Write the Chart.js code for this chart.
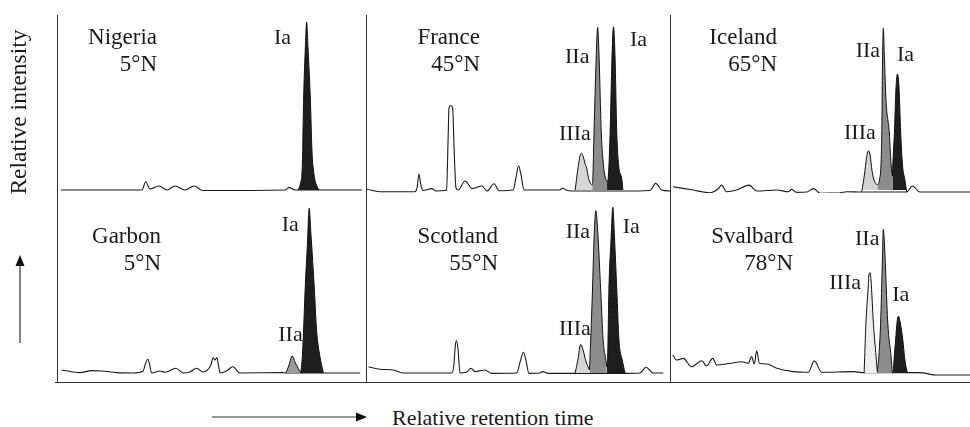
<!DOCTYPE html>
<html>
<head>
<meta charset="utf-8">
<script src="https://cdn.jsdelivr.net/npm/chart.js@4.4.1/dist/chart.umd.min.js"></script>
<style>
  body { margin: 0; background: #fff; }
  #wrap { position: relative; width: 970px; height: 427px; overflow: hidden; font-family: "Liberation Serif", serif; color: #1a1a1a; }
  canvas { position: absolute; }
  .ln { position: absolute; background: #333; }
  .tx { position: absolute; white-space: nowrap; line-height: 1; }
</style>
</head>
<body>
<div id="wrap"></div>
<script>
// panel names and latitudes
const panelNames = ['Nigeria', 'France', 'Iceland', 'Garbon', 'Scotland', 'Svalbard']
const latitudes = ['5°N', '45°N', '65°N', '5°N', '55°N', '78°N']

// [retention time (0-100 per panel), relative intensity]
const nigeriaTrace = [[1.3,0],[27.5,0],[28.7,4.9],[30.1,0.6],[33,2.4],[35.6,0],[38.2,2.4],[41.4,0],[44.3,2.4],[47.2,-0.3],[73.8,0],[75.1,1.4],[77,0],[78,0],[84.8,0],[98.7,0]]
const nigeriaIa = [[78,0],[78.8,4],[79.4,15],[79.8,53],[80.4,85],[80.8,98.8],[81.2,85],[82,53],[82.5,23.5],[83.2,8.8],[84.1,2.4],[84.8,0]]

const franceTrace = [[0.3,0.4],[4.6,-1],[16.1,-1],[16.8,1.2],[17.4,9.4],[18.1,2.4],[18.8,-0.3],[21.7,0.8],[23,-0.6],[26,-0.3],[26.5,0],[27,29.4],[27.3,48.2],[27.9,49.7],[28.5,48.2],[29,23.5],[29.6,1.2],[30.3,0],[32.6,5.3],[34.9,0.8],[38.2,2.4],[39.8,-0.6],[42.1,3.7],[43.8,-0.4],[48.4,0],[49.3,7],[50.2,14.3],[51,8.8],[52,0],[63.8,0],[64.5,1],[66.4,-0.3],[68.8,-0.6],[84.5,-0.6],[93.4,-0.3],[95.3,3.9],[97.3,0],[100,-0.6]]
const franceIIIa = [[68.8,0],[69.8,13.7],[70.4,20],[70.9,21.6],[71.5,19.4],[72,15.9],[72.6,12.9],[73.1,7.8],[73.8,4.1],[74.4,2.9]]
const franceIIa = [[74.4,2.9],[74.6,5.9],[75,33.5],[75.7,76.5],[76.2,95.7],[76.6,82.4],[77.4,33.5],[78.1,14.7],[78.6,8.2],[79.3,4.9]]
const franceIa = [[79.3,4.9],[79.6,5.9],[80.3,33.5],[80.9,76.5],[81.4,96],[81.9,79.6],[82.5,33.5],[83.1,14.7],[84.2,5.9],[84.5,0]]

const icelandTrace = [[1,1.9],[7.7,0],[13.3,-1.6],[16,0.6],[17.2,2.9],[18.9,-1],[22.2,0],[26.4,2.9],[28.9,-0.6],[35.6,0],[39.4,-1],[40.6,0.4],[42.2,-1.4],[45.6,-1.2],[47.8,0.8],[50,-1.9],[56.7,-1.6],[58.9,-1],[63.9,-1.2],[78.9,-1.2],[80.8,2.4],[83.3,-1.2],[100,-1.2]]
const icelandIIIa = [[63.9,-1],[64.8,8.8],[65.5,18.8],[66.1,23.1],[66.7,20.6],[67.3,11.8],[68,5.9],[69.1,2.9]]
const icelandIIa = [[69.1,2.9],[69.8,5.9],[70.6,33.5],[70.8,70.6],[71.1,95.1],[71.5,76.5],[72,52.9],[73.1,33.5],[73.7,14.7],[74.1,8.2]]
const icelandIa = [[74.1,8.2],[74.5,23.5],[74.8,33.5],[75.3,58.8],[75.8,68.2],[76.3,61.8],[76.9,33.5],[77.5,14.7],[78.3,5.9],[78.9,-1.2]]

const garbonTrace = [[1.5,1.8],[7.4,0.2],[11.2,1.4],[14.5,1.2],[19.3,0.2],[24.7,0],[27.9,1.2],[28.6,5.3],[29.4,8.1],[30,4.7],[30.6,0],[33.3,1.2],[35,0.4],[38.5,2.8],[40.9,0],[43,0.6],[45.2,2.8],[47.3,0.6],[49.8,4.7],[50.5,9],[51.1,7.6],[51.7,9],[52.3,4.1],[52.8,0],[54.9,1.2],[56.9,3.7],[59.2,0],[73.2,0.2],[74.1,0],[86.2,0],[98.1,0]]
const garbonIIa = [[74.1,0],[75.1,4.7],[76.1,10],[77.3,5.3],[78.9,0]]
const garbonIa = [[78.9,0],[79.4,9.6],[79.8,25.3],[80.3,48.8],[81.1,78.2],[81.6,96.9],[82.2,81.2],[83.3,48.8],[84,25.3],[85.1,9.6],[86.2,0]]

const scotlandTrace = [[0.8,3.7],[4.6,2.2],[9,1.8],[12.3,0],[28.2,0],[28.9,4.7],[29.4,16.5],[29.8,19],[30.3,13.5],[30.9,0],[33.1,0.4],[34.5,2.8],[35.9,0.8],[39.1,1.8],[41.3,-0.2],[49.6,0],[50.7,6.5],[51.8,12.2],[52.6,7.6],[53.6,-0.2],[57.2,0],[58.1,0.8],[60,-0.2],[68.8,-0.2],[85.2,-0.2],[90.1,0],[92.1,3.4],[94.5,0],[97.8,0]]
const scotlandIIIa = [[68.8,0],[69.7,7.6],[70.6,16.9],[71.4,13.5],[72.4,6.5],[73.5,1.8]]
const scotlandIIa = [[73.5,1.8],[73.7,10],[74.5,48.8],[75,78.2],[75.6,95.5],[76.2,84.1],[77.2,48.8],[78,19.4],[78.9,7.6],[79.2,3.7]]
const scotlandIa = [[79.2,3.7],[79.5,10],[79.9,48.8],[80.6,78.2],[81.2,97.5],[81.7,81.2],[82.5,48.8],[83.2,19.4],[84.3,7.6],[85.2,0]]

const svalbardTrace = [[0.9,10.6],[2.2,7.6],[4.4,8.6],[7.2,3.7],[10.6,7.2],[12.2,4.1],[14.2,8.6],[15.6,4.7],[20,5.7],[23.9,6.6],[26.1,5.7],[27.2,9.6],[28.1,5.3],[28.9,13.1],[29.8,5.7],[32.2,5.3],[35.6,2.8],[41.1,0.8],[46.1,0.4],[48.1,7.1],[50.6,0.4],[61.1,0.8],[64.7,0.2],[79.1,0.2],[83.3,0.2],[88.9,-1.2],[100,-1.2]]
const svalbardIIIa = [[64.7,0],[64.9,9.6],[65.3,29.2],[66,48.8],[66.3,57.6],[66.7,59],[67,54.7],[67.8,29.2],[68.7,9.6],[69.1,0.8]]
const svalbardIIa = [[69.1,0.8],[69.6,9.6],[70.2,29.2],[70.8,66.5],[71.1,84.5],[71.5,75.3],[72.6,29.2],[73.7,9.6],[74.1,0.2]]
const svalbardIa = [[74.4,0],[74.8,10.6],[75.2,19.4],[75.7,30],[76.1,33.5],[76.7,30],[77.6,19.4],[78.3,7.6],[79.1,0]]

const colIa = '#1e1e1e'
const colIIa = '#8c8c8c'
const colIIIa = '#d6d6d6'

const wrap = document.getElementById('wrap')

// panel boxes: left, width (px)
const cols = [[57, 309], [366, 304], [670, 300]]
// rows: canvas top, height, y min, y max
const rows = [[15, 178, -1.76, 102.94], [196, 185, -4.71, 104.12]]

function pts(a) { return a.map(p => ({ x: p[0], y: p[1] })) }

function panel(i, trace, peaks) {
    const c = cols[i % 3], r = rows[Math.floor(i / 3)]
    const cv = document.createElement('canvas')
    cv.width = c[1]; cv.height = r[1]
    cv.style.left = c[0] + 'px'; cv.style.top = r[0] + 'px'
    cv.style.width = c[1] + 'px'; cv.style.height = r[1] + 'px'
    wrap.appendChild(cv)
    const sets = [{ data: pts(trace), borderColor: '#1a1a1a', borderWidth: 1.1, fill: false, order: 2 }]
    peaks.forEach(p => sets.push({
        data: pts(p[0]), borderColor: '#111', borderWidth: 1,
        backgroundColor: p[1], fill: 'origin', order: 1
    }))
    new Chart(cv, {
        type: 'line',
        data: { datasets: sets },
        options: {
            responsive: false,
            animation: false,
            events: [],
            layout: { padding: 0 },
            elements: { point: { radius: 0 }, line: { cubicInterpolationMode: 'monotone' } },
            plugins: { legend: { display: false }, tooltip: { enabled: false } },
            scales: {
                x: { type: 'linear', min: 0, max: 100, display: false },
                y: { min: r[2], max: r[3], display: false }
            }
        }
    })
}

panel(0, nigeriaTrace, [[nigeriaIa, colIa]])
panel(1, franceTrace, [[franceIIIa, colIIIa], [franceIIa, colIIa], [franceIa, colIa]])
panel(2, icelandTrace, [[icelandIIIa, '#d2d2d2'], [icelandIIa, colIIa], [icelandIa, colIa]])
panel(3, garbonTrace, [[garbonIIa, '#9c9c9c'], [garbonIa, colIa]])
panel(4, scotlandTrace, [[scotlandIIIa, colIIIa], [scotlandIIa, colIIa], [scotlandIa, colIa]])
panel(5, svalbardTrace, [[svalbardIIIa, '#ededed'], [svalbardIIa, colIIa], [svalbardIa, colIa]])

// frame lines
function line(x, y, w, h) {
    const d = document.createElement('div')
    d.className = 'ln'
    d.style.left = x + 'px'; d.style.top = y + 'px'
    d.style.width = w + 'px'; d.style.height = h + 'px'
    wrap.appendChild(d)
}
line(57, 15, 1, 368)
line(366, 15, 1, 368)
line(670, 15, 1, 368)
line(55, 382, 915, 1)

// text, placed by baseline
function text(t, x, base, size, alignRight) {
    const d = document.createElement('div')
    d.className = 'tx'
    d.textContent = t
    d.style.fontSize = size + 'px'
    d.style.top = (base - 0.837 * size) + 'px'
    if (alignRight) {
        d.style.left = (x - 300) + 'px'
        d.style.width = '300px'
        d.style.textAlign = 'right'
    } else {
        d.style.left = x + 'px'
    }
    wrap.appendChild(d)
    return d
}

const nameRight = [157, 480, 777, 161, 498, 793]
const nameBase = [44.3, 44.3, 44.3, 243.3, 243.3, 243.3]
panelNames.forEach((n, i) => {
    text(n, nameRight[i], nameBase[i], 23, true)
    text(latitudes[i], nameRight[i], nameBase[i] + 27.4, 23, true)
})

// peak labels: text, left, baseline
const peakLabels = [
    ['Ia', 274, 44.3],
    ['IIa', 565, 63.3], ['Ia', 630, 46], ['IIIa', 559, 140],
    ['IIa', 855.7, 57.3], ['Ia', 897, 61.7], ['IIIa', 844, 139],
    ['Ia', 281.7, 231.7], ['IIa', 278.3, 341.7],
    ['IIa', 565.7, 238.3], ['Ia', 622.7, 233.3], ['IIIa', 559, 335.7],
    ['IIa', 855, 245], ['IIIa', 829.3, 289.3], ['Ia', 892.3, 301.7]
]
peakLabels.forEach(p => text(p[0], p[1], p[2], 22, false))

// axis titles
text('Relative retention time', 392, 425, 22, false)
const yt = document.createElement('div')
yt.className = 'tx'
yt.textContent = 'Relative intensity'
yt.style.fontSize = '23.5px'
yt.style.width = '200px'
yt.style.height = '24px'
yt.style.lineHeight = '24px'
yt.style.textAlign = 'center'
yt.style.left = '-82px'
yt.style.top = '100px'
yt.style.transform = 'rotate(-90deg)'
wrap.appendChild(yt)

// arrows
wrap.insertAdjacentHTML('beforeend',
    '<svg width="970" height="427" style="position:absolute;left:0;top:0">' +
    '<line x1="212" y1="417" x2="358" y2="417" stroke="#333" stroke-width="1.2"/>' +
    '<polygon points="367,417 356,412.5 356,421.5" fill="#111"/>' +
    '<line x1="20" y1="343" x2="20" y2="264" stroke="#333" stroke-width="1.2"/>' +
    '<polygon points="20,255 15.5,266 24.5,266" fill="#111"/>' +
    '</svg>')
</script>
</body>
</html>
